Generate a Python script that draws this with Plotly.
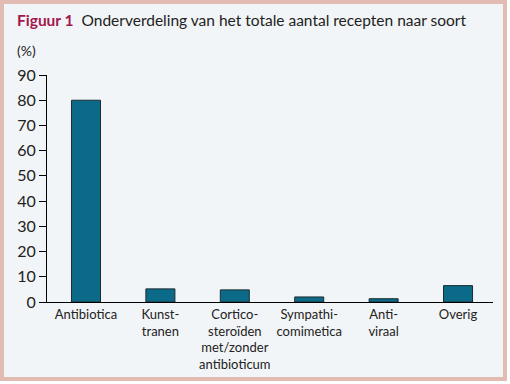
import plotly.graph_objects as go

categories = ["Antibiotica", "Kunst-<br>tranen", "Cortico-<br>steroïden<br>met/zonder<br>antibioticum",
              "Sympathi-<br>comimetica", "Anti-<br>viraal", "Overig"]
values = [80, 5.2, 4.8, 2.0, 1.3, 6.5]
y_ticks = [0, 10, 20, 30, 40, 50, 60, 70, 80, 90]

W, H = 510, 384
L, R, T, B = 47, 17, 75, 82
PW, PH = W - L - R, H - T - B

def px(x):
    return (x - L) / PW

def py(y):
    return (H - B - y) / PH

FONT = "Lato, 'Open Sans', sans-serif"

fig = go.Figure(go.Bar(
    x=categories, y=values,
    marker=dict(color="#0b6a88", line=dict(color="#1c2c33", width=1)),
    width=0.39,
))

fig.update_layout(
    width=W, height=H,
    margin=dict(l=L, r=R, t=T, b=B),
    paper_bgcolor="white",
    plot_bgcolor="rgba(0,0,0,0)",
    showlegend=False,
    font=dict(family=FONT, color="#222222"),
    shapes=[dict(type="rect", xref="paper", yref="paper",
                 x0=px(2), x1=px(505), y0=py(379), y1=py(2),
                 line=dict(color="#e2bbb3", width=4), fillcolor="#f2f5f7",
                 layer="below")],
    annotations=[
        dict(xref="paper", yref="paper", x=px(15), y=py(20), xanchor="left", yanchor="middle",
             text="<b><span style='color:#a3174e'>Figuur 1</span></b>  Onderverdeling van het totale aantal recepten naar soort",
             showarrow=False, font=dict(size=15.5, family=FONT, color="#222222")),
        dict(xref="paper", yref="paper", x=px(15), y=py(50), xanchor="left", yanchor="middle",
             text="(%)", showarrow=False, font=dict(size=14, family=FONT, color="#222222")),
    ],
)

fig.update_yaxes(range=[0, 90], tickvals=y_ticks, ticks="outside", ticklen=7, tickcolor="black",
                 showline=True, linecolor="black", linewidth=1, showgrid=False, zeroline=False,
                 tickfont=dict(size=16, family=FONT, color="#222222"))
fig.update_xaxes(range=[-0.524, 5.47], showline=True, linecolor="black", linewidth=1, ticks="",
                 showgrid=False, tickfont=dict(size=13, family=FONT, color="#222222"), tickangle=0)

fig.write_html("out.html", config={"displayModeBar": False},
               post_script="document.body.style.margin='0';")
